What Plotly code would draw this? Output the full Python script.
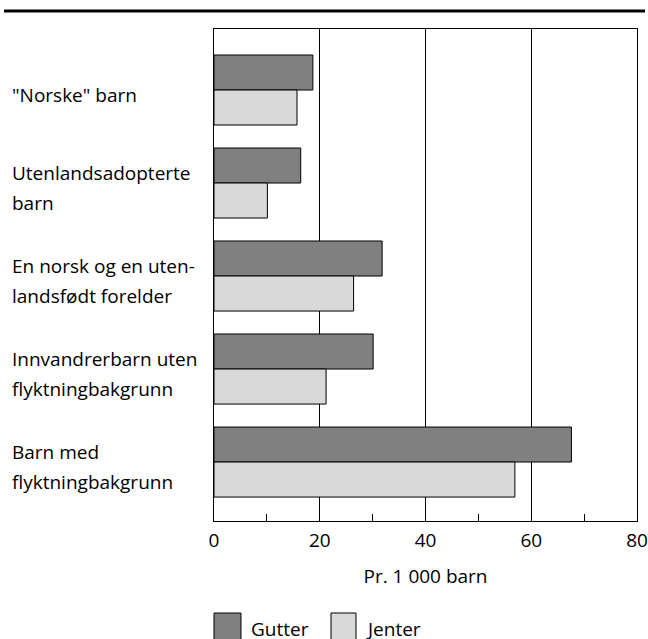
import plotly.graph_objects as go

categories = ['"Norske" barn', "Utenlandsadopterte barn", "En norsk og en utenlandsfødt forelder",
              "Innvandrerbarn uten flyktningbakgrunn", "Barn med flyktningbakgrunn"]
label_lines = [['"Norske" barn'],
               ["Utenlandsadopterte", "barn"],
               ["En norsk og en uten-", "landsfødt forelder"],
               ["Innvandrerbarn uten", "flyktningbakgrunn"],
               ["Barn med", "flyktningbakgrunn"]]
gutter = [18.7, 16.4, 31.8, 30.1, 67.6]
jenter = [15.7, 10.1, 26.4, 21.2, 56.9]
series_names = ["Gutter", "Jenter"]
x_ticks = [0, 20, 40, 60, 80]
x_minor = [10, 30, 50, 70]
x_title = "Pr. 1 000 barn"

FONT = "Open Sans"
FS = 19
colors = ["#808080", "#d9d9d9"]

fig = go.Figure()
for name, vals, col in zip(series_names, [gutter, jenter], colors):
    fig.add_trace(go.Bar(y=categories, x=vals, orientation="h", name=name,
                         marker=dict(color=col, line=dict(color="black", width=1)),
                         showlegend=False, hoverinfo="skip"))

fig.update_layout(
    width=648, height=639,
    margin=dict(l=214, r=11, t=29, b=118, autoexpand=False),
    paper_bgcolor="white", plot_bgcolor="white",
    barmode="group", bargap=0.247, bargroupgap=0,
    font=dict(family=FONT, size=FS, color="black"),
)
fig.update_xaxes(range=[0, 80], tickvals=x_ticks, ticks="", showgrid=True,
                 gridcolor="black", gridwidth=1, showline=True, linecolor="black",
                 linewidth=1, mirror=True, zeroline=False, automargin=False,
                 tickfont=dict(size=FS), ticklabelstandoff=2,
                 minor=dict(tickvals=x_minor, ticks="inside", ticklen=7,
                            tickcolor="black", showgrid=False),
                 title=dict(text=x_title, font=dict(size=FS), standoff=17))
fig.update_yaxes(range=[4.634, -0.656], showticklabels=False, ticks="",
                 showline=True, linecolor="black", linewidth=1, mirror=True,
                 showgrid=False, zeroline=False, automargin=False)

# category labels, left aligned, each line placed separately
for cat, lines in zip(categories, label_lines):
    n = len(lines)
    for i, line in enumerate(lines):
        off = (i - (n - 1) / 2) * 29.5
        fig.add_annotation(text=line, x=-0.482, xref="paper", xanchor="left",
                           y=cat, yref="y", yanchor="middle", yshift=-5 - off,
                           showarrow=False, font=dict(size=FS))

# top rule
fig.add_shape(type="line", xref="paper", yref="paper", x0=-0.4965, x1=1.019,
              y0=1.0366, y1=1.0366, line=dict(color="black", width=3))

# legend drawn manually
leg = [(0.0, 0.0638, 0.0827), (0.2766, 0.3357, 0.3546)]
for (bx0, bx1, tx), name, col in zip(leg, series_names, colors):
    fig.add_shape(type="rect", xref="paper", yref="paper", x0=bx0, x1=bx1,
                  y0=-0.187, y1=-0.26, fillcolor=col, line=dict(color="black", width=1))
    fig.add_annotation(text=name, x=tx, xref="paper", xanchor="left",
                       y=-0.219, yref="paper", yanchor="middle",
                       showarrow=False, font=dict(size=FS))

fig.write_html("out.html", config={"displayModeBar": False},
               post_script="document.body.style.margin='0';document.body.style.overflow='hidden';")
